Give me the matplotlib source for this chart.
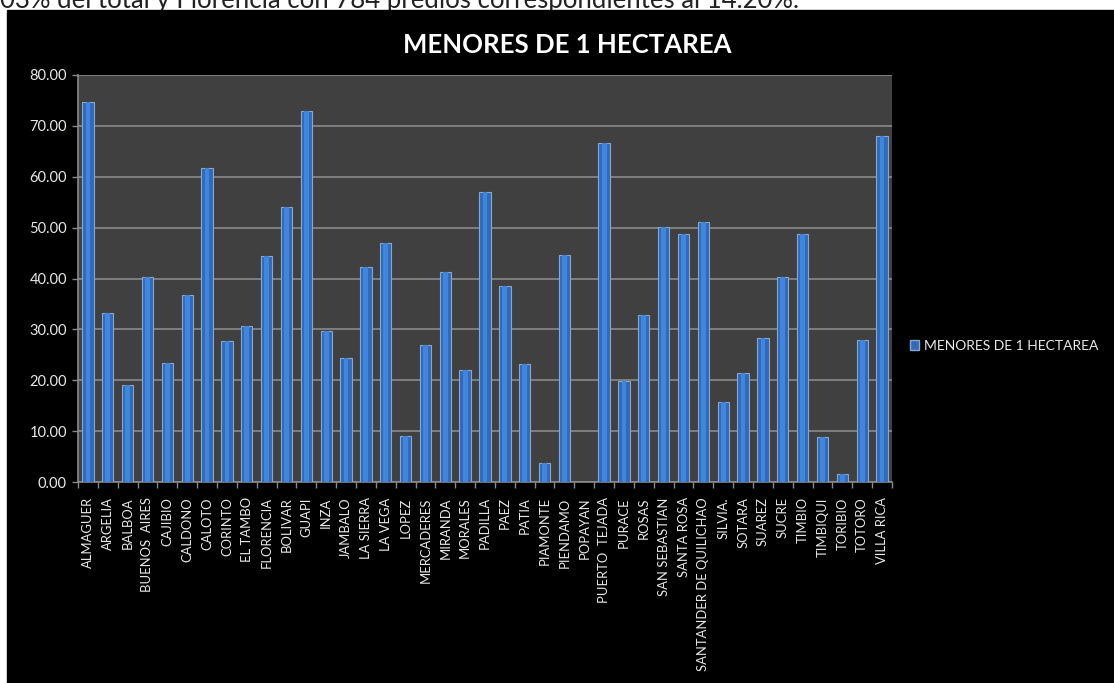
"""Gráfico de barras: predios menores de 1 hectárea por municipio (Cauca)."""

import matplotlib.pyplot as plt
import matplotlib.patches as mpatches
import numpy as np

# --- Datos -------------------------------------------------------------------
MUNICIPIOS = [
    "ALMAGUER", "ARGELIA", "BALBOA", "BUENOS  AIRES", "CAJIBIO", "CALDONO",
    "CALOTO", "CORINTO", "EL TAMBO", "FLORENCIA", "BOLIVAR", "GUAPI", "INZA",
    "JAMBALO", "LA SIERRA", "LA VEGA", "LOPEZ", "MERCADERES", "MIRANDA",
    "MORALES", "PADILLA", "PAEZ", "PATIA", "PIAMONTE", "PIENDAMO", "POPAYAN",
    "PUERTO  TEJADA", "PURACE", "ROSAS", "SAN SEBASTIAN", "SANTA ROSA",
    "SANTANDER DE QUILICHAO", "SILVIA.", "SOTARA", "SUAREZ", "SUCRE",
    "TIMBIO", "TIMBIQUI", "TORIBIO", "TOTORO", "VILLA RICA",
]
MENORES_1HA = [
    74.6, 33.3, 19.0, 40.2, 23.3, 36.7, 61.8, 27.8, 30.6, 44.5, 54.0, 72.9,
    29.6, 24.3, 42.2, 46.9, 9.1, 27.0, 41.2, 22.1, 57.1, 38.6, 23.1, 3.8,
    44.7, 0.0, 66.6, 19.9, 32.9, 50.2, 48.7, 51.2, 15.8, 21.5, 28.4, 40.2,
    48.7, 8.9, 1.6, 28.0, 68.1,
]
Y_TICKS = [0, 10, 20, 30, 40, 50, 60, 70, 80]
SERIE = "MENORES DE 1 HECTAREA"
TITULO = "MENORES DE 1 HECTAREA"
TEXTO_SUPERIOR = "03% del total y Florencia con 784 predios correspondientes al 14.20%."

W, H = 1114, 683
plt.rcParams["font.family"] = ["Lato", "DejaVu Sans"]

fig = plt.figure(figsize=(W / 100, H / 100), dpi=100, facecolor="white")

# fondo negro del área del gráfico (como en Excel), con texto del documento arriba
fig.patches.append(
    mpatches.Rectangle((7 / W, 0), 1 - 7 / W, (H - 10) / H,
                       transform=fig.transFigure, color="black", zorder=-5)
)
fig.text(0 / W, 1 - 8 / H, TEXTO_SUPERIOR, fontsize=18.5, color="#222222",
         va="baseline", ha="left", zorder=-6)

ax = fig.add_axes([78 / W, 1 - 482 / H, (892 - 78) / W, (482 - 75) / H])
ax.set_facecolor("#404040")

x = np.arange(len(MUNICIPIOS))
ax.bar(x, MENORES_1HA, width=0.57, color="#2f6abd", edgecolor="#8ca6c6",
       linewidth=0.8, zorder=3, label=SERIE)
# brillo central de las barras
ax.bar(x, MENORES_1HA, width=0.24, color="#3f86dc", linewidth=0, zorder=4)

ax.set_xlim(-0.5, len(MUNICIPIOS) - 0.5)
ax.set_ylim(0, 80)
ax.set_yticks(Y_TICKS)
ax.set_yticklabels([f"{v:.2f}" for v in Y_TICKS])
ax.grid(axis="y", color="#8a8a8a", linewidth=1.2, zorder=1)

ax.set_xticks(x)
ax.set_xticklabels(MUNICIPIOS, rotation=90, fontsize=9.4, color="#e8e8e8")
ax.set_xticks(np.arange(len(MUNICIPIOS) + 1) - 0.5, minor=True)
ax.tick_params(axis="x", which="major", length=0, pad=11)
ax.tick_params(axis="x", which="minor", length=4, color="#8a8a8a", width=1)
ax.tick_params(axis="y", length=4, color="#8a8a8a", width=1,
               labelsize=10.5, labelcolor="#e8e8e8", pad=4)

for lado in ("top", "right"):
    ax.spines[lado].set_visible(False)
for lado in ("left", "bottom"):
    ax.spines[lado].set_color("#8a8a8a")
    ax.spines[lado].set_linewidth(1.2)

ax.set_title(TITULO, fontsize=18.5, fontweight="bold", color="white",
             x=(567 - 78) / (892 - 78), y=1.0, pad=16)

handle = mpatches.Patch(facecolor="#2f6abd", edgecolor="#8ca6c6", label=SERIE)
fig.legend(handles=[handle], loc="center left",
           bbox_to_anchor=(900 / W, 1 - 346 / H), frameon=False,
           fontsize=10, labelcolor="#e8e8e8", handlelength=0.7,
           handleheight=0.7, handletextpad=0.3, borderpad=0.2)

fig.savefig("out.png", dpi=100, facecolor="white")
